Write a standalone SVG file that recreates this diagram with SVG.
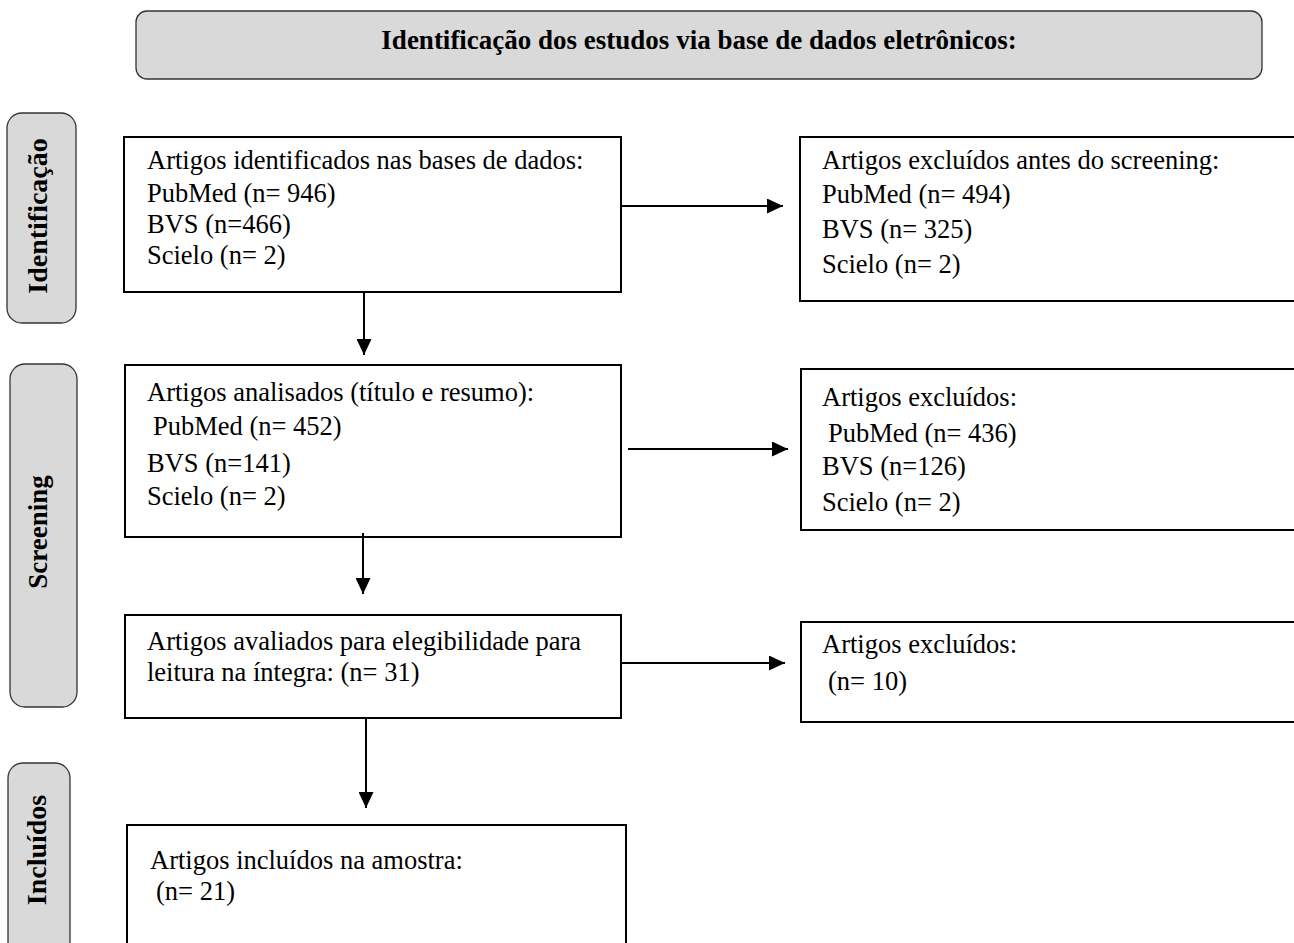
<svg xmlns="http://www.w3.org/2000/svg" width="1294" height="943" viewBox="0 0 1294 943">
<defs>
<marker id="ah" markerWidth="8" markerHeight="7.5" refX="8" refY="3.75" orient="auto" markerUnits="strokeWidth">
<path d="M0,0 L8,3.75 L0,7.5 Z" fill="#000"/>
</marker>
<style>
.lbl{fill:#d9d9d9;stroke:#333;stroke-width:1.3}
.box{fill:#fff;stroke:#000;stroke-width:2}
.t{font-family:"Liberation Serif","Times New Roman",serif;font-size:26.5px;fill:#000}
.b{font-family:"Liberation Serif","Times New Roman",serif;font-weight:bold;fill:#000}
.c{stroke:#000;stroke-width:2;fill:none;marker-end:url(#ah)}
</style>
</defs>
<rect width="1294" height="943" fill="#fff"/>
<g id="banner">
<rect class="lbl" x="136" y="11" width="1126" height="68" rx="11"/>
<text class="b" x="699" y="49" font-size="27" text-anchor="middle">Identificação dos estudos via base de dados eletrônicos:</text>
</g>
<g id="lbl-identificacao">
<rect class="lbl" x="7" y="113" width="69" height="210" rx="15"/>
<text class="b" font-size="28" text-anchor="middle" transform="translate(47,216) rotate(-90)">Identificação</text>
</g>
<g id="lbl-screening">
<rect class="lbl" x="10" y="364" width="67" height="343" rx="15"/>
<text class="b" font-size="27" text-anchor="middle" transform="translate(47,532) rotate(-90)">Screening</text>
</g>
<g id="lbl-incluidos">
<rect class="lbl" x="8" y="763" width="62" height="200" rx="15"/>
<text class="b" font-size="28" text-anchor="middle" transform="translate(46,850) rotate(-90)">Incluídos</text>
</g>
<g id="n1">
<rect class="box" x="124" y="137" width="497" height="155"/>
<text class="t" x="147" y="169">Artigos identificados nas bases de dados:</text>
<text class="t" x="147" y="202">PubMed (n= 946)</text>
<text class="t" x="147" y="233">BVS (n=466)</text>
<text class="t" x="147" y="264">Scielo (n= 2)</text>
</g>
<g id="n2">
<rect class="box" x="800" y="137" width="500" height="164"/>
<text class="t" x="822" y="169">Artigos excluídos antes do screening:</text>
<text class="t" x="822" y="203">PubMed (n= 494)</text>
<text class="t" x="822" y="238">BVS (n= 325)</text>
<text class="t" x="822" y="273">Scielo (n= 2)</text>
</g>
<g id="n3">
<rect class="box" x="125" y="365" width="496" height="172"/>
<text class="t" x="147" y="401">Artigos analisados (título e resumo):</text>
<text class="t" x="153" y="435">PubMed (n= 452)</text>
<text class="t" x="147" y="472">BVS (n=141)</text>
<text class="t" x="147" y="505">Scielo (n= 2)</text>
</g>
<g id="n4">
<rect class="box" x="801" y="369" width="500" height="161"/>
<text class="t" x="822" y="406">Artigos excluídos:</text>
<text class="t" x="828" y="442">PubMed (n= 436)</text>
<text class="t" x="822" y="475">BVS (n=126)</text>
<text class="t" x="822" y="511">Scielo (n= 2)</text>
</g>
<g id="n5">
<rect class="box" x="125" y="615" width="496" height="103"/>
<text class="t" x="147" y="650">Artigos avaliados para elegibilidade para</text>
<text class="t" x="147" y="681">leitura na íntegra: (n= 31)</text>
</g>
<g id="n6">
<rect class="box" x="801" y="622" width="500" height="100"/>
<text class="t" x="822" y="653">Artigos excluídos:</text>
<text class="t" x="828" y="690">(n= 10)</text>
</g>
<g id="n7">
<rect class="box" x="127" y="825" width="499" height="130"/>
<text class="t" x="150" y="869">Artigos incluídos na amostra:</text>
<text class="t" x="156" y="900">(n= 21)</text>
</g>
<g id="connectors">
<line class="c" x1="621" y1="206" x2="783" y2="206"/>
<line class="c" x1="364" y1="292" x2="364" y2="355"/>
<line class="c" x1="628" y1="449" x2="788" y2="449"/>
<line class="c" x1="363" y1="533" x2="363" y2="594"/>
<line class="c" x1="621" y1="663" x2="785" y2="663"/>
<line class="c" x1="366" y1="718" x2="366" y2="808"/>
</g>
</svg>
